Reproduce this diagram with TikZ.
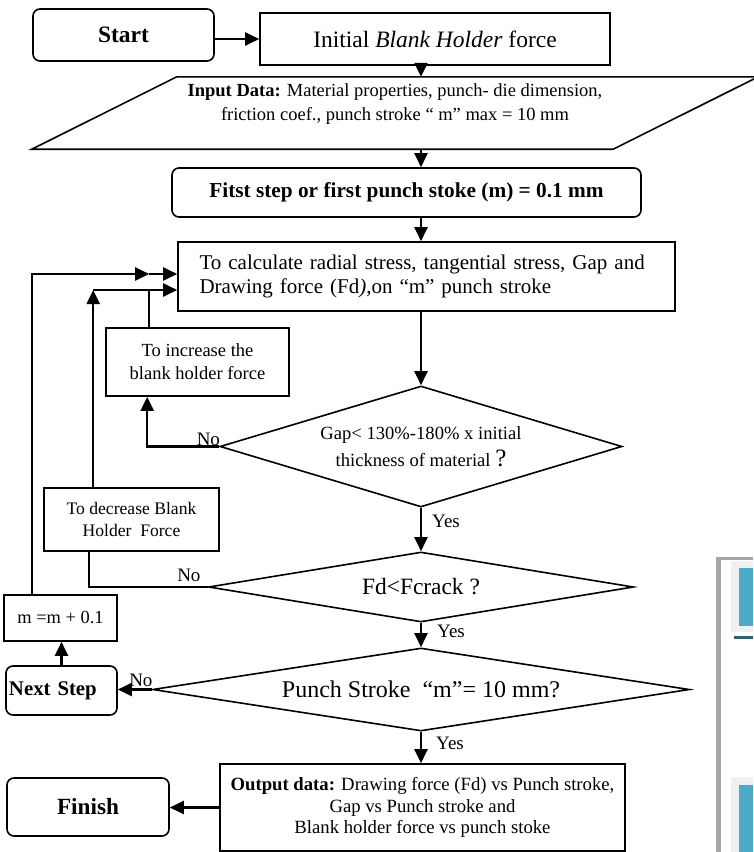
\documentclass[tikz,border=0pt]{standalone}
\usepackage{fontspec}
\setmainfont{Liberation Serif}
\usetikzlibrary{shapes.geometric,arrows.meta,positioning}
\definecolor{panelblue}{HTML}{4BACC6}
\definecolor{paneldark}{HTML}{31606E}
\newcommand{\fsz}[2]{\fontsize{#1}{#2}\selectfont}
\tikzset{
	box/.style={draw, line width=1.6pt, inner sep=0pt, align=center},
	rbox/.style={box, rounded corners=7pt},
	ask/.style={draw, diamond, line width=1.6pt, inner sep=0pt, align=center},
	arr/.style={line width=2.2pt, -{Triangle[length=14pt,width=13pt]}},
	link/.style={line width=1.8pt},
	lbl/.style={inner sep=1pt, font=\fsz{19}{22}}
}
\begin{document}
\begin{tikzpicture}[x=1pt,y=-1pt]
	\useasboundingbox (0,0) rectangle (753,852);
	\coordinate (col) at (421,0);
	\node[rbox, minimum width=181, minimum height=52, font=\fsz{23.5}{28}\bfseries] (start) at (123.5,35) {Start};
	\node[box, minimum width=350, minimum height=52, font=\fsz{23.5}{28}] (init) at (435,39) {Initial \textit{Blank Holder} force};
	\node[minimum width=436, minimum height=72, inner sep=0pt] (input) at (395,113) {};
	\draw[line width=1.6pt] ([xshift=-145pt]input.south west) -- (input.north west) -- ([xshift=145pt]input.north east) -- (input.south east) -- cycle;
	\node[align=center, font=\fsz{18.5}{24}] (inputtxt) at (395,104) {\textbf{Input Data:} Material properties, punch- die dimension,\\friction coef., punch stroke “ m” max = 10 mm};
	\node[rbox, minimum width=469, minimum height=49, font=\fsz{21.3}{25}\bfseries] (first) at (406.5,192.5) {Fitst step or first punch stoke (m) = 0.1 mm};
	\node[box, minimum width=497, minimum height=69, text width=454, align=left, font=\fsz{21}{23.5}] (calc) at (426.5,276.5) {\makebox[454pt][s]{To calculate radial stress, tangential stress, Gap and}\\Drawing force (Fd\textit{)},on “m” punch stroke};
	\node[ask, minimum width=402, minimum height=121, aspect=3.3, font=\fsz{18.6}{22}] (gap) at (421,446.5) {Gap< 130\%-180\% x initial\\[5pt]thickness of material {\fsz{25}{25}?}};
	\node[box, minimum width=183, minimum height=68, font=\fsz{18.5}{23}] (inc) at (197.5,362) {To increase the\\blank holder force};
	\node[box, minimum width=175, minimum height=63, font=\fsz{17.6}{22}] (dec) at (131.5,519.5) {To decrease Blank\\Holder~ Force};
	\node[ask, minimum width=425, minimum height=70, aspect=6, font=\fsz{23.4}{27}] (crack) at (421,587) {Fd<Fcrack ?};
	\node[box, minimum width=113, minimum height=46, font=\fsz{18.4}{22}] (mstep) at (60.5,618) {m =m + 0.1};
	\node[rbox, minimum width=111, minimum height=49, text width=105, align=left, inner sep=3pt, font=\fsz{20.8}{24}\bfseries] (next) at (61.5,690.5) {Next Step};
	\node[ask, minimum width=537, minimum height=83, aspect=6.5, font=\fsz{24}{28}] (stroke) at (421,689.5) {Punch Stroke~ “m”= 10 mm?};
	\node[box, minimum width=405, minimum height=87, font=\fsz{18.7}{21.5}] (out) at (422.5,807.5) {\textbf{Output data:} Drawing force (Fd) vs Punch stroke,\\Gap vs Punch stroke and\\Blank holder force vs punch stoke};
	\node[rbox, minimum width=162, minimum height=58, font=\fsz{23.2}{27}\bfseries] (fin) at (88,807) {Finish};
	\node[lbl, anchor=south east] (nogap) at ([xshift=2pt]gap.west) {No};
	\node[lbl, anchor=south east] (nocrack) at ([shift={(-6pt,4pt)}]crack.west) {No};
	\node[lbl, anchor=south east] (nostroke) at ([shift={(2pt,2pt)}]stroke.west) {No};
	\node[lbl, anchor=north west] (yesgap) at ([shift={(10pt,-6pt)}]gap.south) {Yes};
	\node[lbl, anchor=north west] (yescrack) at ([shift={(15pt,-1pt)}]crack.south) {Yes};
	\node[lbl, anchor=north west] (yesstroke) at ([shift={(14pt,-4pt)}]stroke.south) {Yes};
	\coordinate (inA) at ([yshift=2.5pt]calc.west);
	\coordinate (inB) at ([yshift=-13.5pt]calc.west);
	\draw[arr] (init.west -| start.east) -- (init.west);
	\draw[arr] (init.south -| col) -- (input.north -| col);
	\draw[arr] (input.south -| col) -- (first.north -| col);
	\draw[arr] (first.south -| col) -- (calc.north -| col);
	\draw[arr] (calc.south -| col) -- (gap.north);
	\draw[arr] (gap.south) -- (crack.north);
	\draw[arr] (crack.south) -- (stroke.north);
	\draw[arr] (stroke.south) -- (out.north -| col);
	\draw[arr] (gap.west) -| ([xshift=42pt]inc.south west);
	\draw[link] ([xshift=44pt]inc.north west) -- ([xshift=44pt]inc.north west |- inB);
	\draw[arr] ([xshift=50pt]dec.north west) -- ([xshift=50pt]dec.north west |- inB);
	\draw[arr] ([xshift=50pt]dec.north west |- inB) -- (inB);
	\draw[link] (crack.west) -| ([xshift=46pt]dec.south west);
	\draw[arr] ([xshift=29pt]mstep.north west) |- ([xshift=-28pt]inA);
	\draw[arr] ([xshift=-28pt]inA) -- (inA);
	\draw[arr] (stroke.west) -- (stroke.west -| next.east);
	\draw[arr] (next.north) -- (next.north |- mstep.south);
	\draw[arr] (out.west) -- (out.west -| fin.east);
	\fill[black!35] (716,557) rectangle (721,852);
	\fill[black!35] (716,557) rectangle (753,560);
	\fill[black!6] (731,561) rectangle (753,632);
	\fill[panelblue] (739,568) rectangle (753,626);
	\fill[paneldark] (734,636) rectangle (753,639);
	\fill[black!6] (731,777) rectangle (753,852);
	\fill[panelblue] (739,785) rectangle (753,852);
\end{tikzpicture}
\end{document}
